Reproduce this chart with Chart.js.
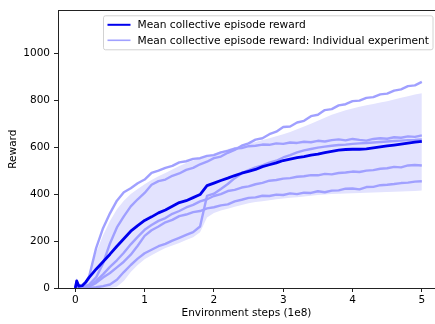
<!DOCTYPE html>
<html><head><meta charset="utf-8">
<script src="https://cdn.jsdelivr.net/npm/chart.js@4/dist/chart.umd.min.js"></script>
<style>html,body{margin:0;padding:0;background:#fff;overflow:hidden}#wrap{width:435px;height:324px;position:relative}</style>
</head><body><div id="wrap"><canvas id="c"></canvas></div>
<script>
// x positions (environment steps, 1e8)
const STEPS = [0,0.02,0.05,0.1,0.15,0.2,0.3,0.4,0.5,0.6,0.7,0.8,0.9,1.0,1.1,1.2,1.3,1.4,1.5,1.6,1.7,1.8,1.9,2.0,2.1,2.2,2.3,2.4,2.5,2.6,2.7,2.8,2.9,3.0,3.1,3.2,3.3,3.4,3.5,3.6,3.7,3.8,3.9,4.0,4.1,4.2,4.3,4.4,4.5,4.6,4.7,4.8,4.9,5.0];
const MEAN = [0,30,8,10,25,45,80,112,144,178,210,242,266,288,303,320,332,348,364,372,385,398,436,447,458,468,479,489,497,505,517,525,533,543,549,555,560,566,570,577,582,587,590,591,591,593,597,601,605,609,613,617,621,625];
const RUN_A = [0,30,5,8,20,50,170,255,318,372,408,425,446,462,490,500,512,520,535,540,550,553,563,566,578,584,594,596,604,606,611,610,616,614,620,618,623,621,627,624,630,633,629,635,631,628,635,638,636,642,640,646,644,650];
const RUN_B = [0,20,0,2,8,15,45,105,190,258,305,348,378,405,440,455,462,478,488,503,512,527,538,553,560,576,588,606,616,632,638,655,666,686,688,705,712,732,738,758,762,778,783,796,798,810,813,825,828,841,846,860,863,878];
const RUN_C = [0,10,0,0,3,8,30,58,90,118,150,186,218,248,268,286,298,316,328,343,354,369,378,392,400,413,418,428,433,442,448,457,460,466,468,474,476,481,480,486,484,490,492,496,494,500,502,508,510,516,514,522,524,522];
const RUN_D = [0,5,0,0,2,5,22,45,64,88,112,142,180,222,246,262,280,290,306,313,323,328,339,344,352,356,369,376,384,386,393,392,398,396,403,400,406,405,412,408,415,416,423,424,420,430,431,438,440,443,447,449,453,455];
const RUN_E = [0,15,0,0,0,0,3,8,15,35,68,98,125,148,163,178,188,202,214,226,238,262,392,402,422,443,468,488,502,514,522,534,542,556,566,578,586,592,598,602,606,609,611,614,616,618,620,622,624,626,628,630,631,633];
const BAND_UPPER = [0,45,15,20,35,60,150,225,285,335,372,400,422,442,460,476,490,505,520,532,543,553,563,573,582,592,600,608,615,622,630,638,646,655,665,676,688,700,712,725,738,748,757,765,772,778,784,790,796,803,810,817,824,830];
const BAND_LOWER = [0,0,0,0,0,0,0,0,0,5,30,68,98,122,140,156,170,181,192,204,216,238,300,320,330,338,346,354,361,366,370,374,378,381,384,387,390,393,396,398,400,402,403,404,405,406,407,408,409,410,411,412,413,415];
const X_TICKS = [0,1,2,3,4,5];
const Y_TICKS = [0,200,400,600,800,1000];
const LEGEND_LABELS = ['Mean collective episode reward','Mean collective episode reward: Individual experiment'];
const X_TITLE = 'Environment steps (1e8)';
const Y_TITLE = 'Reward';

const pts = arr => arr.map((v,i)=>({x:STEPS[i], y:v}));
const FONT = {family:'"DejaVu Sans", sans-serif', size:10.5};
const LEGEND_FONT_SIZE = 10.65;
const MEAN_COLOR = '#0000ee';
const INDIV_COLOR = '#a0a0ff';
const BAND_COLOR = '#e3e3fe';
const SPINE = '#222';

const runs = [RUN_A, RUN_B, RUN_C, RUN_D, RUN_E];
const datasets = [
  {label: LEGEND_LABELS[0], data: pts(MEAN), borderColor: MEAN_COLOR, borderWidth: 2.8, pointRadius: 0, fill: false, tension: 0},
  ...runs.map(r => ({label: LEGEND_LABELS[1], data: pts(r), borderColor: INDIV_COLOR, borderWidth: 2.4, pointRadius: 0, fill: false, tension: 0})),
  {label: 'band upper', data: pts(BAND_UPPER), borderColor: 'rgba(0,0,0,0)', borderWidth: 0, backgroundColor: BAND_COLOR, pointRadius: 0, fill: '+1', tension: 0},
  {label: 'band lower', data: pts(BAND_LOWER), borderColor: 'rgba(0,0,0,0)', borderWidth: 0, pointRadius: 0, fill: false, tension: 0}
];

const frame = {
  id: 'frame',
  afterDraw(chart){
    const {ctx, chartArea: a} = chart;
    ctx.save();
    ctx.strokeStyle = SPINE; ctx.lineWidth = 1;
    ctx.beginPath(); ctx.moveTo(a.left, Math.round(a.top)+0.5); ctx.lineTo(a.right, Math.round(a.top)+0.5); ctx.stroke();
    ctx.restore();
  }
};

const legendBox = {
  id: 'legendBox',
  afterDraw(chart){
    const {ctx, chartArea: a} = chart;
    ctx.save();
    ctx.font = LEGEND_FONT_SIZE + 'px "DejaVu Sans", sans-serif';
    const tw = Math.max(...LEGEND_LABELS.map(t => ctx.measureText(t).width));
    const x0 = a.left + 45.5, y0 = a.top + 5.5;
    const w = 34 + tw + 4, h = 34;
    ctx.fillStyle = 'rgba(255,255,255,0.8)';
    ctx.strokeStyle = '#d2d2d2'; ctx.lineWidth = 1;
    ctx.beginPath();
    if (ctx.roundRect) ctx.roundRect(x0, y0, w, h, 2); else ctx.rect(x0, y0, w, h);
    ctx.fill(); ctx.stroke();
    const colors = [MEAN_COLOR, INDIV_COLOR];
    const widths = [2, 1.6];
    LEGEND_LABELS.forEach((t, i) => {
      const y = y0 + 9 + i * 15.5;
      ctx.strokeStyle = colors[i]; ctx.lineWidth = widths[i];
      ctx.beginPath(); ctx.moveTo(x0 + 4, y); ctx.lineTo(x0 + 27, y); ctx.stroke();
      ctx.fillStyle = '#000'; ctx.textBaseline = 'middle'; ctx.textAlign = 'left';
      ctx.fillText(t, x0 + 34, y + 0.5);
    });
    ctx.restore();
  }
};

new Chart(document.getElementById('c'), {
  type: 'line',
  data: {datasets},
  options: {
    responsive: true, maintainAspectRatio: false, animation: false,
    layout: {padding: {top: 4, left: 0, right: 0, bottom: 0}},
    plugins: {legend: {display: false}, tooltip: {enabled: false}},
    elements: {line: {borderCapStyle: 'butt', borderJoinStyle: 'round'}},
    scales: {
      x: {
        type: 'linear', min: -0.25, max: 5.19,
        afterBuildTicks: s => { s.ticks = X_TICKS.map(v => ({value: v})); },
        afterFit: s => { s.height = 36; },
        ticks: {font: FONT, color: '#000', padding: 2, maxRotation: 0, autoSkip: false, callback: v => String(v)},
        grid: {display: true, drawOnChartArea: false, tickLength: 4, color: SPINE},
        border: {display: true, color: SPINE, width: 1},
        title: {display: true, text: X_TITLE, font: FONT, color: '#000', padding: {top: 0, bottom: 4}}
      },
      y: {
        type: 'linear', min: 0, max: 1183,
        afterBuildTicks: s => { s.ticks = Y_TICKS.map(v => ({value: v})); },
        afterFit: s => { s.width = 58; },
        ticks: {font: FONT, color: '#000', padding: 4, callback: v => String(v)},
        grid: {display: true, drawOnChartArea: false, tickLength: 4, color: SPINE},
        border: {display: true, color: SPINE, width: 1},
        title: {display: true, text: Y_TITLE, font: FONT, color: '#000', padding: {top: 7, bottom: 0}}
      }
    }
  },
  plugins: [frame, legendBox]
});
</script>
</body></html>
